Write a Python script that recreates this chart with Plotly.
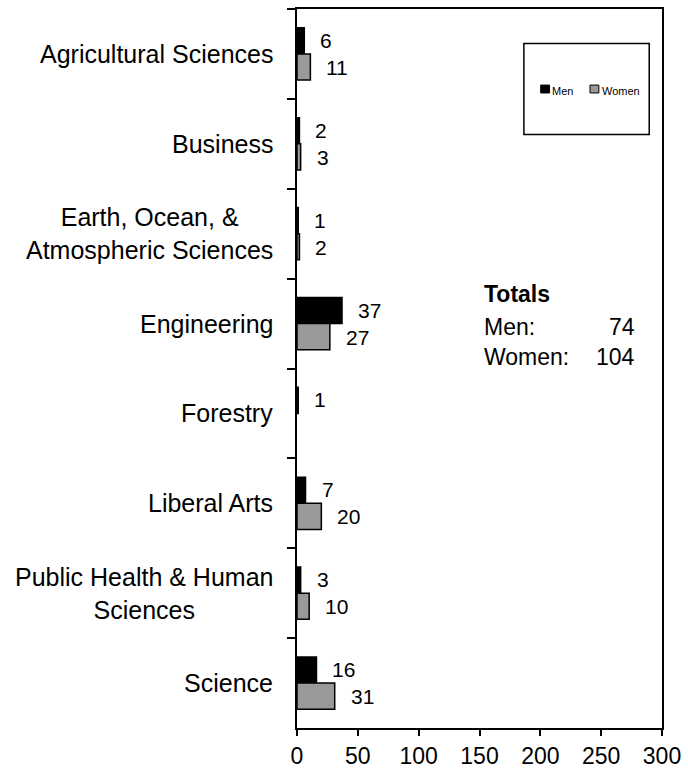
import plotly.graph_objects as go

categories = ["Agricultural Sciences", "Business", "Earth, Ocean, &<br>Atmospheric Sciences",
              "Engineering", "Forestry", "Liberal Arts",
              "Public Health & Human<br>Sciences", "Science"]
men = [6, 2, 1, 37, 1, 7, 3, 16]
women = [11, 3, 2, 27, 0, 20, 10, 31]
x_ticks = [0, 50, 100, 150, 200, 250, 300]
total_men = 74
total_women = 104

FONT = "Liberation Sans, Arial, sans-serif"
NARROW = "Liberation Sans Narrow, Arial Narrow, Liberation Sans, sans-serif"

fig = go.Figure()
fig.add_trace(go.Bar(name="Men", y=categories, x=men, orientation="h",
                     marker=dict(color="#000000",
                                 line=dict(color="#000000", width=[1.5 if v > 0 else 0 for v in men])),
                     showlegend=False))
fig.add_trace(go.Bar(name="Women", y=categories, x=women, orientation="h",
                     marker=dict(color="#999999",
                                 line=dict(color="#000000", width=[1.5 if v > 0 else 0 for v in women])),
                     showlegend=False))

annotations = []
# data labels
for cat, m, w in zip(categories, men, women):
    for val, ys in ((m, -13.5), (w, 13.5)):
        if val > 0:
            annotations.append(dict(x=val, y=cat, xref="x", yref="y", text=str(val),
                                    showarrow=False, xanchor="left", yanchor="middle",
                                    xshift=14, yshift=-ys,
                                    font=dict(family=NARROW, size=21, color="#000000")))
# category labels
for cat in categories:
    annotations.append(dict(x=0, y=cat, xref="paper", yref="y", text=cat, showarrow=False,
                            xanchor="right", yanchor="middle", align="center", xshift=-22,
                            font=dict(family=FONT, size=25, color="#000000")))
# totals block
tf = dict(family=FONT, size=23, color="#000000")
annotations += [
    dict(x=0.508, y=0.603, xref="paper", yref="paper", text="<b>Totals</b>", showarrow=False,
         xanchor="left", yanchor="middle", font=tf),
    dict(x=0.508, y=0.5577, xref="paper", yref="paper", text="Men:", showarrow=False,
         xanchor="left", yanchor="middle", font=tf),
    dict(x=0.932, y=0.5577, xref="paper", yref="paper", text=str(total_men), showarrow=False,
         xanchor="right", yanchor="middle", font=tf),
    dict(x=0.508, y=0.5165, xref="paper", yref="paper", text="Women:", showarrow=False,
         xanchor="left", yanchor="middle", font=tf),
    dict(x=0.932, y=0.5165, xref="paper", yref="paper", text=str(total_women), showarrow=False,
         xanchor="right", yanchor="middle", font=tf),
]
# legend text
lf = dict(family=FONT, size=11, color="#000000")
annotations += [
    dict(x=0.694, y=0.886, xref="paper", yref="paper", text="Men", showarrow=False,
         xanchor="left", yanchor="middle", font=lf),
    dict(x=0.829, y=0.886, xref="paper", yref="paper", text="Women", showarrow=False,
         xanchor="left", yanchor="middle", font=lf),
]

shapes = [
    dict(type="rect", xref="paper", yref="paper", x0=0.6216, x1=0.965, y0=0.8255, y1=0.952,
         line=dict(color="#000000", width=1.5), fillcolor="white"),
    dict(type="rect", xref="paper", yref="paper", x0=0.6676, x1=0.6919, y0=0.8832, y1=0.8942,
         line=dict(color="#000000", width=1), fillcolor="#000000"),
    dict(type="rect", xref="paper", yref="paper", x0=0.8027, x1=0.827, y0=0.8832, y1=0.8942,
         line=dict(color="#000000", width=1), fillcolor="#999999"),
]

fig.update_layout(
    width=688, height=776,
    margin=dict(l=297, r=21, t=7, b=41),
    paper_bgcolor="white", plot_bgcolor="white",
    barmode="group", bargap=0.42, bargroupgap=0,
    annotations=annotations, shapes=shapes,
    font=dict(family=FONT, size=23, color="#000000"),
)
fig.update_xaxes(range=[0, 300], tickvals=x_ticks, ticks="outside", ticklen=6, tickwidth=2,
                 tickcolor="#000000", showline=True, linecolor="#000000", linewidth=2,
                 mirror=True, showgrid=False, zeroline=False,
                 tickfont=dict(family=FONT, size=23, color="#000000"))
fig.update_yaxes(autorange="reversed", type="category", tickson="boundaries", ticks="outside",
                 ticklen=8, tickwidth=2, tickcolor="#000000", showticklabels=False,
                 showline=True, linecolor="#000000", linewidth=2, mirror=True, showgrid=False)

fig.write_html("out.html", config={"displayModeBar": False},
               post_script="document.body.style.margin='0';")
